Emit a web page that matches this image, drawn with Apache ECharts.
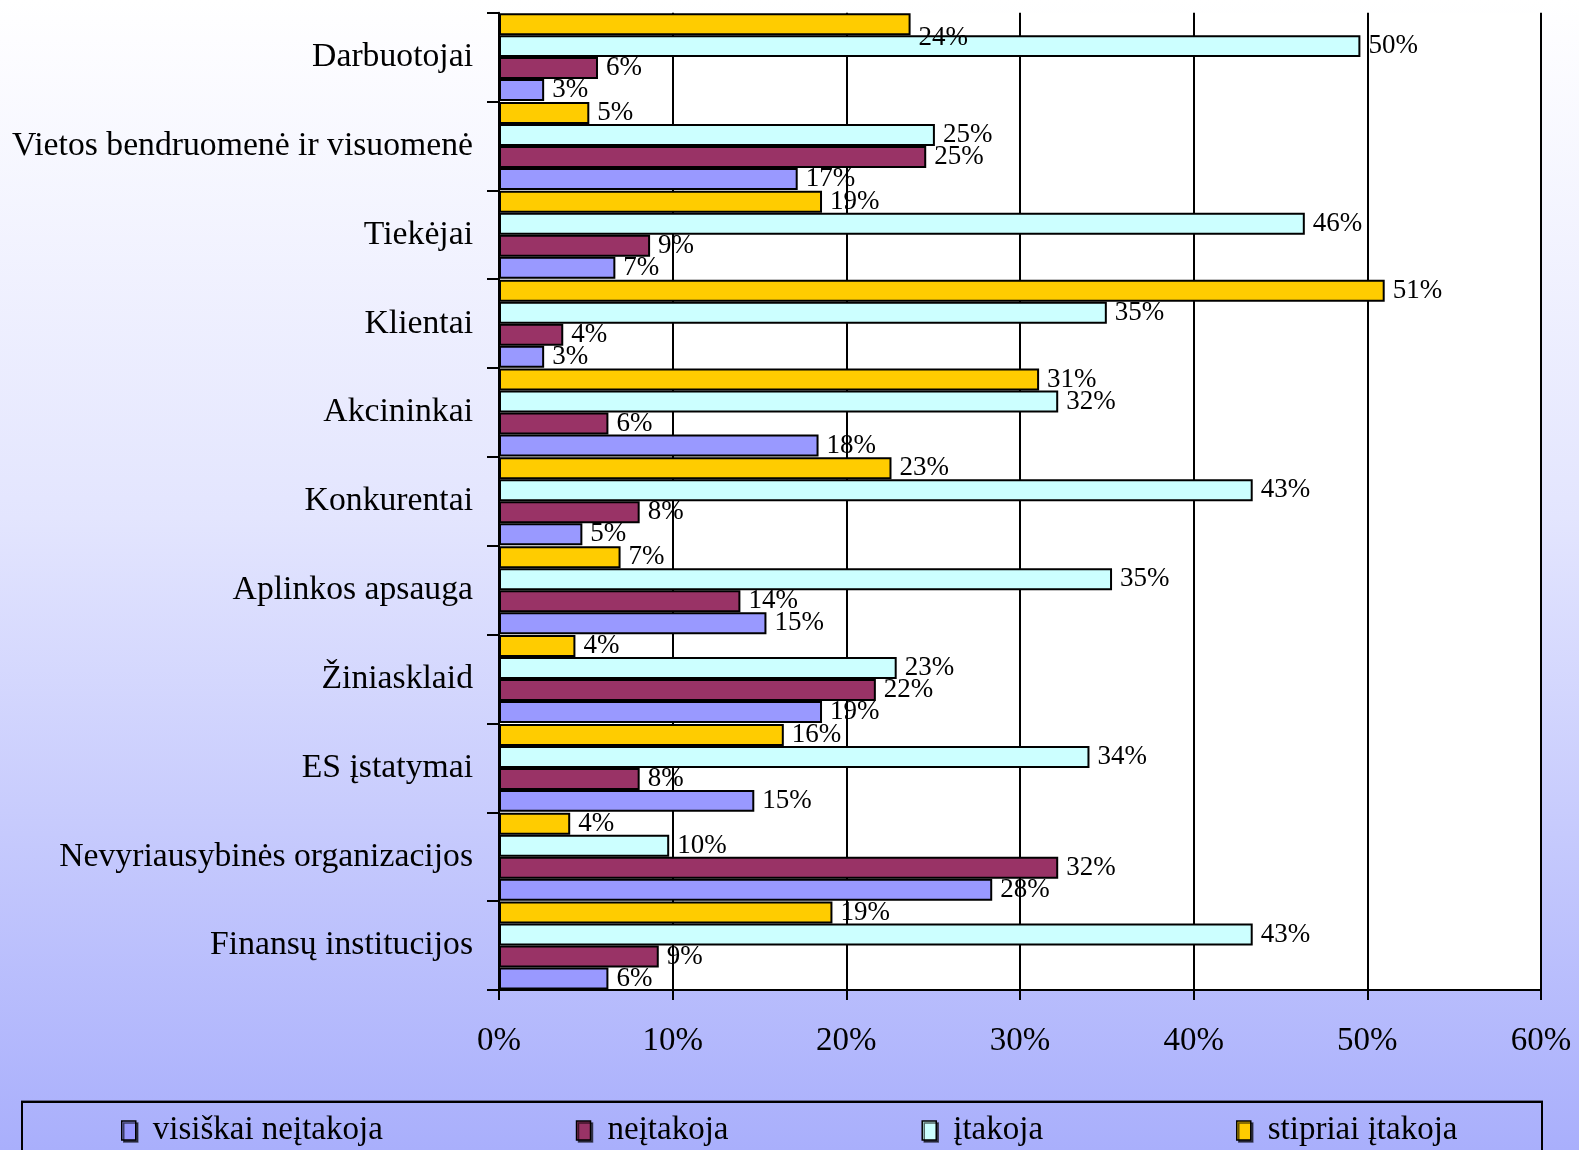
<!DOCTYPE html>
<html>
<head>
<meta charset="utf-8">
<script src="https://cdn.jsdelivr.net/npm/echarts@6/dist/echarts.min.js"></script>
<style>
html,body{margin:0;padding:0;}
#chart{width:1579px;height:1150px;}
</style>
</head>
<body>
<div id="chart"></div>
<script>
const categories = ["Darbuotojai","Vietos bendruomenė ir visuomenė","Tiekėjai","Klientai","Akcininkai","Konkurentai","Aplinkos apsauga","Žiniasklaid","ES įstatymai","Nevyriausybinės organizacijos","Finansų institucijos"];
const seriesNames = ["visiškai neįtakoja","neįtakoja","įtakoja","stipriai įtakoja"];
const visiskaiNeitakoja = [2.6,17.2,6.7,2.6,18.4,4.8,15.4,18.6,14.7,28.4,6.3];
const neitakoja        = [5.7,24.6,8.7,3.7,6.3,8.1,13.9,21.7,8.1,32.2,9.2];
const itakoja          = [49.6,25.1,46.4,35.0,32.2,43.4,35.3,22.9,34.0,9.8,43.4];
const stipriaiItakoja  = [23.7,5.2,18.6,51.0,31.1,22.6,7.0,4.4,16.4,4.1,19.2];
const xTicks = [0,10,20,30,40,50,60];
const colors = ["#9999ff","#993366","#ccffff","#ffcc00"];
const values = [visiskaiNeitakoja, neitakoja, itakoja, stipriaiItakoja];

const font = "'Liberation Serif','Times New Roman',serif";
const chart = echarts.init(document.getElementById('chart'));

const series = values.map((arr, i) => ({
  name: seriesNames[i],
  type: 'bar',
  barGap: '0%',
  barCategoryGap: '1%',
  data: arr.map((v, j) => {
    const item = { value: v };
    if (i === 3 && j === 0) item.label = { offset: [0, 14] };
    return item;
  }),
  itemStyle: { color: colors[i], borderColor: '#000', borderWidth: 2 },
  label: {
    show: true, position: 'right', distance: 8,
    fontFamily: font, fontSize: 27, color: '#000',
    formatter: p => Math.round(p.value) + '%'
  }
})).reverse();

chart.setOption({
  animation: false,
  backgroundColor: {
    type: 'linear', x: 0, y: 0, x2: 0, y2: 1,
    colorStops: [
      { offset: 0, color: '#ffffff' },
      { offset: 0.45, color: '#e3e5fe' },
      { offset: 1, color: '#a9affc' }
    ]
  },
  grid: {
    left: 499, right: 38, top: 12.7, bottom: 160,
    show: true, backgroundColor: '#ffffff', borderWidth: 0,
    containLabel: false
  },
  legend: {
    data: seriesNames,
    left: 121, top: 1114, padding: 0,
    itemWidth: 14, itemHeight: 19, itemGap: 193,
    icon: 'rect',
    itemStyle: { borderColor: '#000', borderWidth: 1.5, shadowColor: 'rgba(0,0,0,0.6)', shadowOffsetX: 2, shadowOffsetY: 2 },
    textStyle: { fontFamily: font, fontSize: 33, color: '#000', padding: [0, 0, 0, 12] }
  },
  xAxis: {
    type: 'value', min: 0, max: 60, interval: 10,
    axisLine: { show: true, lineStyle: { color: '#000', width: 2 } },
    axisTick: { show: true, length: 10, lineStyle: { color: '#000', width: 2 } },
    splitLine: { show: true, lineStyle: { color: '#000', width: 2 } },
    axisLabel: {
      fontFamily: font, fontSize: 33, color: '#000', margin: 35,
      formatter: v => (xTicks.includes(v) ? v + '%' : '')
    }
  },
  yAxis: {
    type: 'category', data: categories, inverse: true,
    axisLine: { show: true, lineStyle: { color: '#000', width: 2 } },
    axisTick: { show: true, length: 12, lineStyle: { color: '#000', width: 2 } },
    axisLabel: { fontFamily: font, fontSize: 33.7, color: '#000', margin: 26 }
  },
  graphic: [{
    type: 'rect', z: -1,
    shape: { x: 22, y: 1102, width: 1520, height: 70 },
    style: { fill: 'none', stroke: '#000', lineWidth: 2, shadowColor: 'rgba(0,0,0,0.4)', shadowOffsetY: -1 }
  }],
  series: series
});
</script>
</body>
</html>
